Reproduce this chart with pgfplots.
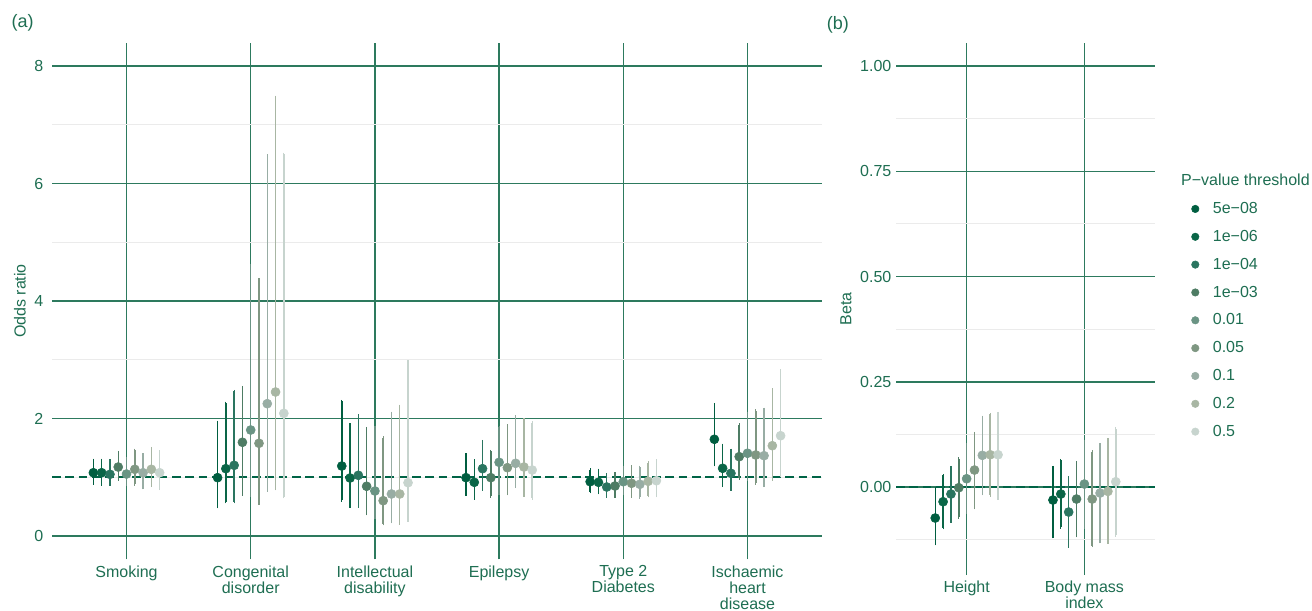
\documentclass[border=0pt]{standalone}
\usepackage{pgfplots}
\pgfplotsset{compat=1.18}
\usepackage{pgfplotstable}
\usepackage{fontspec}
\setmainfont{Liberation Sans}

\definecolor{txtg}{RGB}{30,110,82}
\definecolor{gridg}{RGB}{45,122,94}
\definecolor{dashg}{RGB}{0,100,70}
\definecolor{minorg}{RGB}{235,235,235}
\definecolor{c1}{RGB}{0,94,64}
\definecolor{c2}{RGB}{10,102,71}
\definecolor{c3}{RGB}{42,117,96}
\definecolor{c4}{RGB}{78,124,100}
\definecolor{c5}{RGB}{106,148,132}
\definecolor{c6}{RGB}{127,151,130}
\definecolor{c7}{RGB}{152,173,164}
\definecolor{c8}{RGB}{168,182,163}
\definecolor{c9}{RGB}{199,212,206}

% Panel (a): odds ratios, columns: category, estimate, lower CI, upper CI
\pgfplotstableread{
cat y lo hi
1 1.077 0.90 1.29
2 0.993 0.499 1.935
3 1.191 0.613 2.29
4 0.993 0.71 1.384
5 0.924 0.754 1.129
6 1.646 1.214 2.24
}\aA
\pgfplotstableread{
cat y lo hi
1 1.077 0.885 1.29
2 1.146 0.584 2.26
3 0.987 0.51 1.895
4 0.914 0.647 1.277
5 0.914 0.737 1.118
6 1.152 0.857 1.543
}\aB
\pgfplotstableread{
cat y lo hi
1 1.05 0.88 1.277
2 1.203 0.584 2.46
3 1.033 0.51 2.048
4 1.146 0.80 1.61
5 0.834 0.675 1.043
6 1.067 0.80 1.458
}\aC
\pgfplotstableread{
cat y lo hi
1 1.174 0.965 1.42
2 1.595 0.715 2.53
3 0.846 0.38 1.83
4 0.993 0.675 1.44
5 0.851 0.675 1.055
6 1.35 0.987 1.895
}\aD
\pgfplotstableread{
cat y lo hi
1 1.055 0.87 1.32
2 1.804 0.698 4.596
3 0.766 0.31 1.85
4 1.254 0.72 1.85
5 0.924 0.72 1.169
6 1.408 0.97 2.088
}\aE
\pgfplotstableread{
cat y lo hi
1 1.135 0.88 1.46
2 1.578 0.556 4.357
3 0.601 0.21 1.67
4 1.163 0.72 1.878
5 0.897 0.675 1.18
6 1.379 0.897 2.128
}\aF
\pgfplotstableread{
cat y lo hi
1 1.077 0.82 1.38
2 2.252 0.783 6.474
3 0.715 0.24 2.09
4 1.237 0.84 2.026
5 0.88 0.658 1.169
6 1.367 0.857 2.156
}\aG
\pgfplotstableread{
cat y lo hi
1 1.135 0.86 1.49
2 2.451 0.805 7.467
3 0.715 0.22 2.21
4 1.174 0.692 1.974
5 0.931 0.686 1.248
6 1.537 0.97 2.485
}\aH
\pgfplotstableread{
cat y lo hi
1 1.077 0.81 1.43
2 2.088 0.669 6.497
3 0.907 0.267 2.96
4 1.123 0.647 1.923
5 0.941 0.686 1.277
6 1.707 1.027 2.814
}\aI

% Panel (b): betas
\pgfplotstableread{
cat y lo hi
1 -0.0736 -0.135 -0.003
2 -0.0309 -0.118 0.0467
}\bA
\pgfplotstableread{
cat y lo hi
1 -0.0349 -0.097 0.0277
2 -0.0166 -0.0958 0.0634
}\bB
\pgfplotstableread{
cat y lo hi
1 -0.0166 -0.0815 0.0467
2 -0.0594 -0.140 0.022
}\bC
\pgfplotstableread{
cat y lo hi
1 -0.0016 -0.072 0.067
2 -0.0285 -0.116 0.0586
}\bD
\pgfplotstableread{
cat y lo hi
1 0.0197 -0.060 0.101
2 0.0071 -0.095 0.109
}\bE
\pgfplotstableread{
cat y lo hi
1 0.0404 -0.049 0.1275
2 -0.0285 -0.139 0.084
}\bF
\pgfplotstableread{
cat y lo hi
1 0.0753 -0.016 0.166
2 -0.0143 -0.130 0.101
}\bG
\pgfplotstableread{
cat y lo hi
1 0.0767 -0.0198 0.1726
2 -0.0103 -0.131 0.1124
}\bH
\pgfplotstableread{
cat y lo hi
1 0.0767 -0.026 0.175
2 0.0126 -0.114 0.139
}\bI

\newcommand{\ser}[3]{%
  \addplot[only marks, mark=*, mark size=3.4pt, color=#2,
    mark options={draw=none, fill=#2},
    error bars/.cd, y dir=both, y explicit,
    error bar style={line width=1.1pt, color=#2},
    error mark options={line width=0.9pt, mark size=1.2pt, color=#2}]
  table[x expr=\thisrow{cat}+#3, y=y,
        y error plus expr=\thisrow{hi}-\thisrow{y},
        y error minus expr=\thisrow{y}-\thisrow{lo}]{#1};}

\pgfplotsset{
  common/.style={
    scale only axis,
    anchor=north west,
    axis line style={draw=none},
    major tick length=0pt, minor tick length=0pt,
    tick style={draw=none},
    xmajorgrids=true, ymajorgrids=true, yminorgrids=true,
    major grid style={color=gridg, line width=1.125pt},
    minor grid style={color=minorg, line width=0.75pt},
    tick label style={font=\fontsize{12}{12}\selectfont, text=txtg},
    label style={font=\fontsize{12}{12}\selectfont, text=txtg},
    xticklabel style={align=center, anchor=north, yshift=-1pt},
    /pgf/number format/assume math mode=true,
  }
}

\begin{document}
\begin{tikzpicture}[font=\fontsize{12}{12}\selectfont]
\useasboundingbox (0,0) rectangle (984pt,-457.5pt);

\node[anchor=west, text=txtg, inner sep=0pt, font=\fontsize{13.5}{13.5}\selectfont] at (8.5pt,-16.9pt) {(a)};
\node[anchor=west, text=txtg, inner sep=0pt, font=\fontsize{13.5}{13.5}\selectfont] at (620pt,-19.0pt) {(b)};

\begin{axis}[common,
  at={(39pt,-31.875pt)},
  width=577.5pt, height=387.75pt,
  xmin=0.4, xmax=6.6, ymin=-0.4, ymax=8.4,
  xtick={1,2,3,4,5,6},
  xticklabels={Smoking, {Congenital\\disorder}, {Intellectual\\disability}, Epilepsy, {Type 2\\Diabetes}, {Ischaemic\\heart\\disease}},
  ytick={0,2,4,6,8},
  minor ytick={1,3,5,7},
  yticklabel style={xshift=-3pt},
  ylabel={Odds ratio},
  ylabel style={at={(axis description cs:-0.0416,0.5)}, anchor=center},
]
\addplot[forget plot, color=dashg, line width=1.6pt, dash pattern=on 6.4pt off 3.6pt] coordinates {(0.4,1) (6.6,1)};
\ser{\aA}{c1}{-0.2667}
\ser{\aB}{c2}{-0.2}
\ser{\aC}{c3}{-0.1333}
\ser{\aD}{c4}{-0.0667}
\ser{\aE}{c5}{0}
\ser{\aF}{c6}{0.0667}
\ser{\aG}{c7}{0.1333}
\ser{\aH}{c8}{0.2}
\ser{\aI}{c9}{0.2667}
\end{axis}

\begin{axis}[common,
  clip=false,
  at={(672pt,-32.25pt)},
  width=194.25pt, height=399pt,
  xmin=0.4, xmax=2.6, ymin=-0.209, ymax=1.055,
  xtick={1,2},
  xticklabels={Height, {Body mass\\index}},
  ytick={0,0.25,0.5,0.75,1},
  minor ytick={-0.125,0.125,0.375,0.625,0.875},
  yticklabel style={/pgf/number format/.cd, fixed, fixed zerofill, precision=2},
  ylabel={Beta},
  ylabel style={at={(axis description cs:-0.193,0.5)}, anchor=center},
  legend style={at={(axis description cs:1.138,0.706)}, anchor=north west,
    draw=none, fill=none, inner sep=0pt, row sep=7.0pt,
    font=\fontsize{12}{12}\selectfont, text=txtg,
    nodes={inner sep=2pt}},
  legend cell align=left,
  legend image code/.code={\path (-3pt,0pt) (11pt,0pt); \fill[#1] (0pt,0pt) circle (2.8pt);},
]
\addplot[forget plot, color=dashg, line width=1.6pt, dash pattern=on 6.4pt off 3.6pt] coordinates {(0.4,0) (2.6,0)};
\ser{\bA}{c1}{-0.2667}
\ser{\bB}{c2}{-0.2}
\ser{\bC}{c3}{-0.1333}
\ser{\bD}{c4}{-0.0667}
\ser{\bE}{c5}{0}
\ser{\bF}{c6}{0.0667}
\ser{\bG}{c7}{0.1333}
\ser{\bH}{c8}{0.2}
\ser{\bI}{c9}{0.2667}
\legend{5e−08,1e−06,1e−04,1e−03,0.01,0.05,0.1,0.2,0.5}
\node[anchor=west, text=txtg, inner sep=0pt] at (axis description cs:1.100,0.7425) {P−value threshold};
\end{axis}
\end{tikzpicture}
\end{document}
